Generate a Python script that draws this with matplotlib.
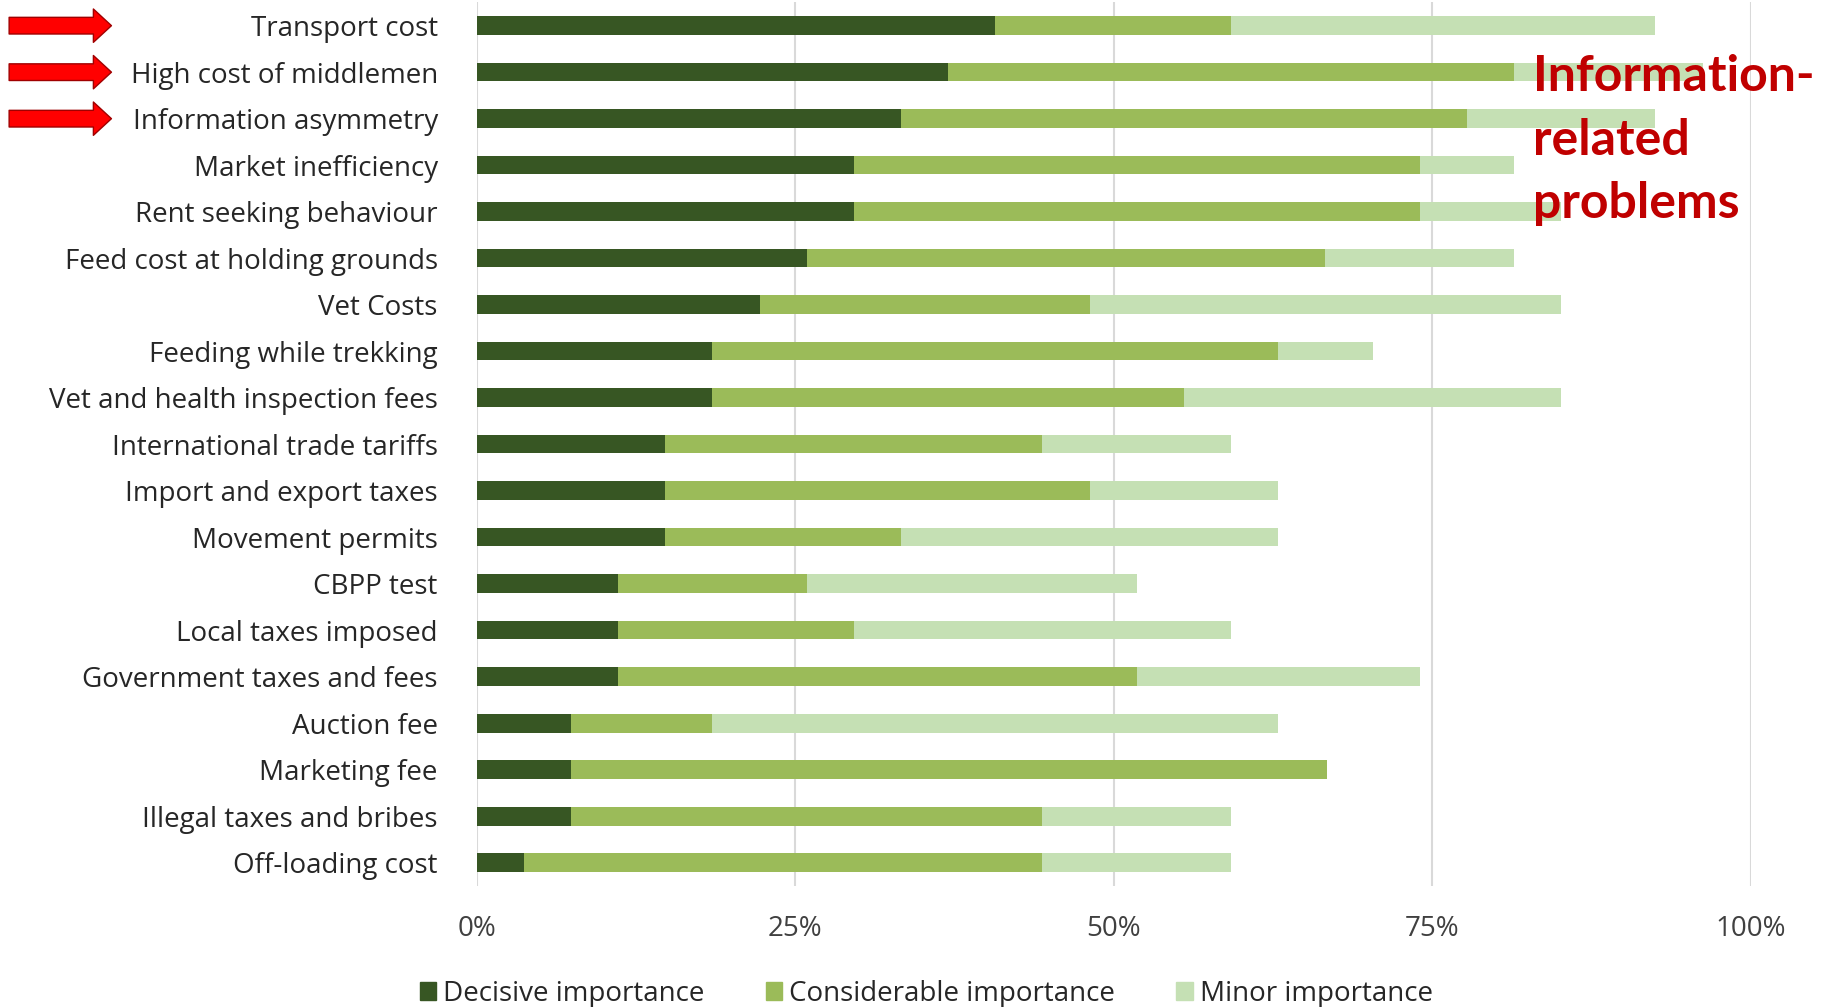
import matplotlib.pyplot as plt
from matplotlib.patches import Patch
from matplotlib.transforms import blended_transform_factory
import numpy as np

# categories, top to bottom
categories = [
    "Transport cost",
    "High cost of middlemen",
    "Information asymmetry",
    "Market inefficiency",
    "Rent seeking behaviour",
    "Feed cost at holding grounds",
    "Vet Costs",
    "Feeding while trekking",
    "Vet and health inspection fees",
    "International trade tariffs",
    "Import and export taxes",
    "Movement permits",
    "CBPP test",
    "Local taxes imposed",
    "Government taxes and fees",
    "Auction fee",
    "Marketing fee",
    "Illegal taxes and bribes",
    "Off-loading cost",
]

# share of respondents (%)
decisive = [40.7, 37.0, 33.3, 29.6, 29.6, 25.9, 22.2, 18.5, 18.5, 14.8,
            14.8, 14.8, 11.1, 11.1, 11.1, 7.4, 7.4, 7.4, 3.7]
considerable = [18.5, 44.4, 44.4, 44.4, 44.4, 40.7, 25.9, 44.4, 37.0, 29.6,
                33.3, 18.5, 14.8, 18.5, 40.7, 11.1, 59.3, 37.0, 40.7]
minor = [33.3, 14.8, 14.8, 7.4, 11.1, 14.8, 37.0, 7.4, 29.6, 14.8,
         14.8, 29.6, 25.9, 29.6, 22.2, 44.4, 0.0, 14.8, 14.8]

series_names = ["Decisive importance", "Considerable importance", "Minor importance"]
series_colors = ["#375623", "#9BBB59", "#C5E0B4"]
x_ticks = [0, 25, 50, 75, 100]
x_tick_labels = ["0%", "25%", "50%", "75%", "100%"]
flagged = ["Transport cost", "High cost of middlemen", "Information asymmetry"]
note = "Information-\nrelated\nproblems"

plt.rcParams["font.family"] = ["Open Sans", "DejaVu Sans"]

fig = plt.figure(figsize=(18.27, 10.07), dpi=100)
ax = fig.add_axes([0.2609, 0.1202, 0.6975, 0.8774])

y = np.arange(len(categories))
left = np.zeros(len(categories))
for vals, color in zip([decisive, considerable, minor], series_colors):
    ax.barh(y, vals, left=left, height=0.4, color=color, zorder=3)
    left += np.array(vals)

ax.set_ylim(len(categories) - 0.5, -0.5)
ax.set_xlim(0, 100)
ax.set_yticks(y)
ax.set_yticklabels(categories, fontsize=20, color="#262626")
ax.set_xticks(x_ticks)
ax.set_xticklabels(x_tick_labels, fontsize=20, color="#404040")
ax.tick_params(axis="y", length=0, pad=28)
ax.tick_params(axis="x", length=0, pad=21)
ax.grid(axis="x", color="#D9D9D9", linewidth=1.5, zorder=0)
for s in ax.spines.values():
    s.set_visible(False)

# red arrows pointing at the information-related rows
trans = blended_transform_factory(fig.transFigure, ax.transData)
for name in flagged:
    yy = categories.index(name)
    ax.annotate(
        "", xy=(0.061, yy), xycoords=trans, xytext=(0.005, yy), textcoords=trans,
        arrowprops=dict(
            arrowstyle="simple,head_length=13,head_width=24,tail_width=12",
            mutation_scale=1, fc="#FF0000", ec="#A00000", lw=1,
            shrinkA=0, shrinkB=0,
        ),
        annotation_clip=False,
    )

fig.text(0.839, 0.946, note, color="#C00000", fontsize=36, fontweight="bold",
         family=["Lato", "DejaVu Sans"], ha="left", va="top", linespacing=1.49)

handles = [Patch(color=c, label=n) for n, c in zip(series_names, series_colors)]
fig.legend(handles=handles, loc="center", bbox_to_anchor=(0.507, 0.013), ncol=3,
           frameon=False, fontsize=20, handlelength=0.6, handleheight=0.6,
           handletextpad=0.25, columnspacing=2.2, labelcolor="#262626")

fig.savefig("out.png", dpi=100)
